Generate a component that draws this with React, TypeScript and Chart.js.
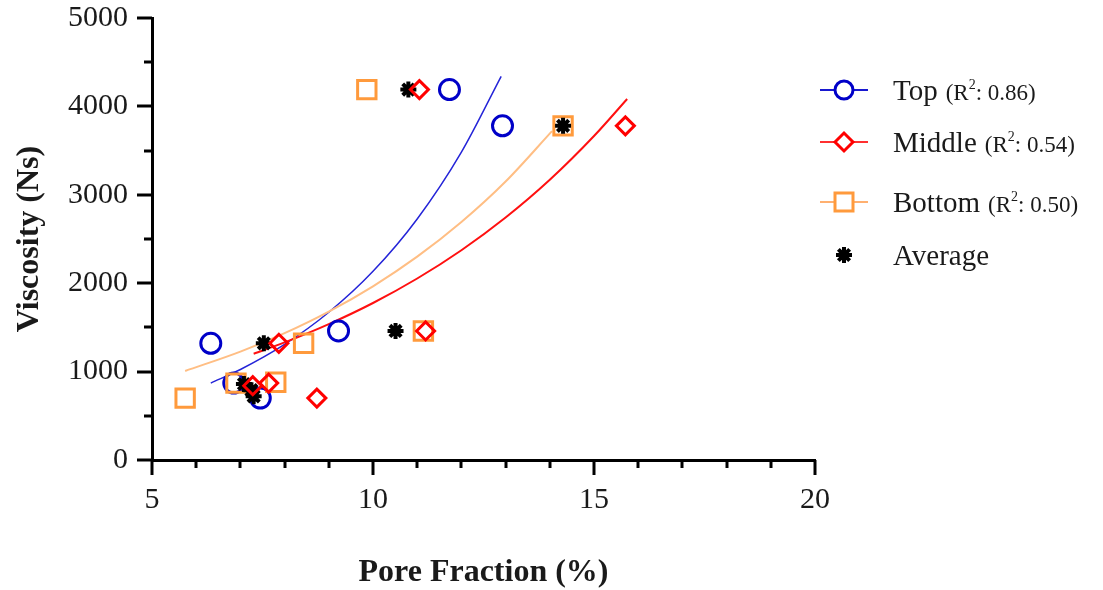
import React, { useEffect, useRef } from "react";
import { Chart, registerables } from "chart.js";

Chart.register(...registerables);

// ---- data ----
const topX = [6.33, 6.85, 7.45, 9.22, 11.73, 12.93];
const topY = [1320, 870, 700, 1460, 4190, 3780];

const midX = [7.87, 8.73, 7.28, 7.64, 11.19, 11.05, 15.71];
const midY = [1320, 700, 840, 870, 1460, 4190, 3780];

const botX = [5.75, 6.9, 7.8, 8.43, 11.14, 9.86, 14.3];
const botY = [700, 870, 880, 1320, 1460, 4190, 3780];

const avgX = [7.53, 10.51, 10.8, 14.3, 7.08, 7.25, 7.3];
const avgY = [1320, 1460, 4190, 3780, 860, 790, 720];

// fitted trend curves
const trendTopX = [6.33, 7, 8, 9, 10, 11, 12, 12.9];
const trendTopY = [870, 1024, 1308, 1671, 2134, 2726, 3482, 4340];
const trendMidX = [7.3, 8, 9, 10, 11, 12, 13, 14, 15, 15.75];
const trendMidY = [1202, 1330, 1537, 1776, 2053, 2373, 2743, 3170, 3665, 4084];
const trendBotX = [5.75, 7, 8, 9, 10, 11, 12, 13, 14.05];
const trendBotY = [1007, 1226, 1435, 1679, 1965, 2300, 2692, 3150, 3720];

const xTicks = [5, 10, 15, 20];
const xMinorTicks = [6, 7, 8, 9, 11, 12, 13, 14, 16, 17, 18, 19];
const yTicks = [0, 1000, 2000, 3000, 4000, 5000];
const yMinorTicks = [500, 1500, 2500, 3500, 4500];

const legendItems = [
  { label: "Top", r2: "0.86", style: "circle", color: "#0000C8", line: "#1818D0" },
  { label: "Middle", r2: "0.54", style: "diamond", color: "#FF0000", line: "#FF3030" },
  { label: "Bottom", r2: "0.50", style: "square", color: "#FF9A3C", line: "#FFB070" },
  { label: "Average", r2: "", style: "star", color: "#000000", line: "" },
];

const BLUE = "#0000C8";
const RED = "#FF0000";
const ORANGE = "#FF9A3C";
const SERIF = "'Liberation Serif', 'DejaVu Serif', serif";
const TEXT = "#1a1a1a";

const zip = (xs: number[], ys: number[]) => xs.map((x, i) => ({ x, y: ys[i] }));

function drawMarker(ctx: CanvasRenderingContext2D, style: string, x: number, y: number, color: string) {
  ctx.save();
  ctx.strokeStyle = color;
  ctx.fillStyle = color;
  ctx.lineWidth = 3;
  ctx.beginPath();
  if (style === "circle") {
    ctx.arc(x, y, 9, 0, Math.PI * 2);
    ctx.fillStyle = "#fff";
    ctx.fill();
    ctx.stroke();
  } else if (style === "diamond") {
    const r = 9;
    ctx.moveTo(x - r, y);
    ctx.lineTo(x, y - r);
    ctx.lineTo(x + r, y);
    ctx.lineTo(x, y + r);
    ctx.closePath();
    ctx.fillStyle = "#fff";
    ctx.fill();
    ctx.stroke();
  } else if (style === "square") {
    const h = 9;
    ctx.rect(x - h, y - h, 2 * h, 2 * h);
    ctx.fillStyle = "#fff";
    ctx.fill();
    ctx.stroke();
  } else {
    const r = 8;
    ctx.lineWidth = 4;
    for (let k = 0; k < 4; k++) {
      const a = (k * Math.PI) / 4;
      ctx.moveTo(x - Math.cos(a) * r, y - Math.sin(a) * r);
      ctx.lineTo(x + Math.cos(a) * r, y + Math.sin(a) * r);
    }
    ctx.stroke();
  }
  ctx.restore();
}

const tickPlugin = {
  id: "customTicks",
  afterDraw(chart: any) {
    const ctx = chart.ctx as CanvasRenderingContext2D;
    const xs = chart.scales.x;
    const ys = chart.scales.y;
    ctx.save();
    ctx.strokeStyle = "#000";
    ctx.lineWidth = 3;
    const xTick = (v: number, len: number) => {
      const px = Math.round(xs.getPixelForValue(v));
      ctx.beginPath();
      ctx.moveTo(px, ys.bottom);
      ctx.lineTo(px, ys.bottom + len);
      ctx.stroke();
    };
    const yTick = (v: number, len: number) => {
      const py = Math.round(ys.getPixelForValue(v));
      ctx.beginPath();
      ctx.moveTo(xs.left, py);
      ctx.lineTo(xs.left - len, py);
      ctx.stroke();
    };
    xTicks.forEach((v) => xTick(v, 15));
    xMinorTicks.forEach((v) => xTick(v, 8));
    yTicks.forEach((v) => yTick(v, 15));
    yMinorTicks.forEach((v) => yTick(v, 8));
    ctx.restore();
  },
};

const legendPlugin = {
  id: "customLegend",
  afterDraw(chart: any) {
    const ctx = chart.ctx as CanvasRenderingContext2D;
    const rowY = [90, 142, 202, 255];
    const mx = 844;
    const tx = 893;
    ctx.save();
    legendItems.forEach((it, i) => {
      const cy = rowY[i];
      if (it.line) {
        ctx.strokeStyle = it.line;
        ctx.lineWidth = 2;
        ctx.beginPath();
        ctx.moveTo(820, cy);
        ctx.lineTo(868, cy);
        ctx.stroke();
      }
      drawMarker(ctx, it.style, mx, cy, it.color);
      ctx.fillStyle = TEXT;
      ctx.textBaseline = "alphabetic";
      ctx.textAlign = "left";
      const base = cy + 10;
      ctx.font = `29px ${SERIF}`;
      ctx.fillText(it.label, tx, base);
      if (it.r2) {
        let x = tx + ctx.measureText(it.label).width + 8;
        ctx.font = `23px ${SERIF}`;
        ctx.fillText("(R", x, base);
        x += ctx.measureText("(R").width;
        ctx.font = `14px ${SERIF}`;
        ctx.fillText("2", x, base - 11);
        x += ctx.measureText("2").width;
        ctx.font = `23px ${SERIF}`;
        ctx.fillText(": " + it.r2 + ")", x, base);
      }
    });
    ctx.restore();
  },
};

export default function App() {
  const ref = useRef<HTMLCanvasElement | null>(null);
  useEffect(() => {
    document.body.style.margin = "0";
    const canvas = ref.current;
    if (!canvas) return;
    const tickFont = { family: SERIF, size: 30 };
    const titleFont = { family: SERIF, size: 32, weight: "bold" as const, lineHeight: 1.1 };
    const chart = new Chart(canvas, {
      type: "scatter",
      data: {
        datasets: [
          {
            label: "Top fit",
            data: zip(trendTopX, trendTopY),
            showLine: true,
            borderColor: "#2424D8",
            borderWidth: 1.5,
            pointRadius: 0,
            cubicInterpolationMode: "monotone",
            order: 6,
          } as any,
          {
            label: "Middle fit",
            data: zip(trendMidX, trendMidY),
            showLine: true,
            borderColor: "#FF1010",
            borderWidth: 2,
            pointRadius: 0,
            cubicInterpolationMode: "monotone",
            order: 5,
          },
          {
            label: "Bottom fit",
            data: zip(trendBotX, trendBotY),
            showLine: true,
            borderColor: "#FFBE84",
            borderWidth: 2,
            pointRadius: 0,
            cubicInterpolationMode: "monotone",
            order: 4,
          },
          {
            label: "Top",
            data: zip(topX, topY),
            pointStyle: "circle",
            pointRadius: 10,
            pointBorderWidth: 3,
            pointBorderColor: BLUE,
            pointBackgroundColor: "rgba(255,255,255,0)",
            order: 3,
          },
          {
            label: "Bottom",
            data: zip(botX, botY),
            pointStyle: "rect",
            pointRadius: 13,
            pointBorderWidth: 3,
            pointBorderColor: ORANGE,
            pointBackgroundColor: "rgba(255,255,255,0)",
            order: 2,
          },
          {
            label: "Average",
            data: zip(avgX, avgY),
            pointStyle: "star",
            pointRadius: 8,
            pointBorderWidth: 4,
            pointBorderColor: "#000",
            pointBackgroundColor: "#000",
            order: 1,
          },
          {
            label: "Middle",
            data: zip(midX, midY),
            pointStyle: "rectRot",
            pointRadius: 9,
            pointBorderWidth: 3,
            pointBorderColor: RED,
            pointBackgroundColor: "rgba(255,255,255,0)",
            order: 0,
          },
        ],
      },
      options: {
        animation: false,
        responsive: false,
        maintainAspectRatio: false,
        events: [],
        layout: { padding: { top: 18, right: 288, bottom: 0, left: 0 } },
        plugins: { legend: { display: false }, tooltip: { enabled: false } },
        scales: {
          x: {
            type: "linear",
            min: 5,
            max: 20,
            afterFit(s: any) {
              s.height = 130;
              s.paddingLeft = 0;
              s.paddingRight = 0;
            },
            afterBuildTicks(s: any) {
              s.ticks = xTicks.map((v) => ({ value: v }));
            },
            grid: { display: false },
            border: { display: true, color: "#000", width: 3 },
            ticks: {
              font: tickFont,
              color: TEXT,
              padding: 14,
              maxRotation: 0,
              callback: (v: any) => String(v),
            },
            title: {
              display: true,
              text: "Pore Fraction (%)",
              font: titleFont,
              color: TEXT,
              padding: { top: 0, bottom: 0 },
            },
          },
          y: {
            type: "linear",
            min: 0,
            max: 5000,
            afterFit(s: any) {
              s.width = 152;
              s.paddingTop = 0;
              s.paddingBottom = 0;
            },
            afterBuildTicks(s: any) {
              s.ticks = yTicks.map((v) => ({ value: v }));
            },
            grid: { display: false },
            border: { display: true, color: "#000", width: 3 },
            ticks: { font: tickFont, color: TEXT, padding: 16, callback: (v: any) => String(v) },
            title: {
              display: true,
              text: "Viscosity (Ns)",
              font: titleFont,
              color: TEXT,
              padding: { top: 12, bottom: 0 },
            },
          },
        },
      },
      plugins: [tickPlugin, legendPlugin],
    });
    return () => chart.destroy();
  }, []);
  return <canvas ref={ref} width={1103} height={590} style={{ display: "block" }} />;
}
